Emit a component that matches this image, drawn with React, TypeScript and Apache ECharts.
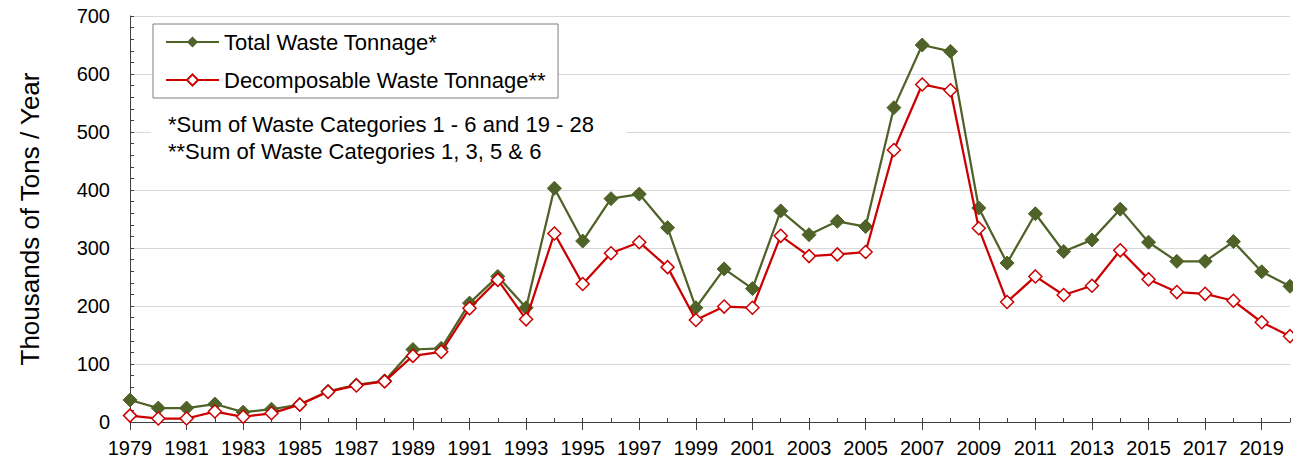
import React, { useEffect, useRef } from "react";
import * as echarts from "echarts";

const years: string[] = [
  "1979","1980","1981","1982","1983","1984","1985","1986","1987","1988",
  "1989","1990","1991","1992","1993","1994","1995","1996","1997","1998",
  "1999","2000","2001","2002","2003","2004","2005","2006","2007","2008",
  "2009","2010","2011","2012","2013","2014","2015","2016","2017","2018",
  "2019","2020",
];

const totalWaste: number[] = [
  38, 24, 24, 31, 17, 22, 30, 53, 64, 71,
  125, 127, 205, 251, 197, 403, 312, 385, 393, 335,
  197, 264, 230, 364, 323, 346, 337, 542, 650, 639,
  369, 274, 359, 294, 314, 367, 310, 277, 277, 311,
  259, 234,
];

const decomposableWaste: number[] = [
  11, 6, 6, 18, 9, 15, 30, 52, 63, 70,
  114, 121, 196, 245, 177, 325, 238, 291, 310, 267,
  176, 199, 197, 321, 286, 289, 293, 469, 582, 572,
  334, 207, 251, 219, 235, 296, 246, 224, 221, 209,
  172, 148,
];

const seriesNames: string[] = ["Total Waste Tonnage*", "Decomposable Waste Tonnage**"];
const footnotes: string[] = [
  "*Sum of Waste Categories 1 - 6 and 19 - 28",
  "**Sum of Waste Categories 1, 3, 5 & 6",
];
const yAxisTitle = "Thousands of Tons / Year";

const FONT = "'Liberation Sans', Arial, sans-serif";
const GREEN = "#4F6228";
const RED = "#CC0000";

export default function App() {
  const ref = useRef<HTMLDivElement>(null);

  useEffect(() => {
    if (!ref.current) return;
    const chart = echarts.init(ref.current, undefined, { renderer: "svg" });
    chart.setOption({
      animation: false,
      backgroundColor: "#ffffff",
      textStyle: { fontFamily: FONT },
      grid: { left: 130, right: 3, top: 16, bottom: 43, containLabel: false },
      legend: {
        left: 153,
        top: 24,
        orient: "vertical",
        padding: [7, 12, 7, 12],
        itemGap: 16,
        itemWidth: 53,
        itemHeight: 14,
        borderColor: "#7f7f7f",
        borderWidth: 1,
        backgroundColor: "#ffffff",
        textStyle: { fontSize: 22, color: "#000", fontFamily: FONT, lineHeight: 22 },
        data: seriesNames,
      },
      xAxis: [
        {
          type: "category",
          data: years,
          boundaryGap: false,
          position: "bottom",
          axisLine: { show: true, lineStyle: { color: "#404040", width: 1 } },
          axisTick: { show: true, interval: 1, length: 8, inside: false, lineStyle: { color: "#404040" } },
          axisLabel: { interval: 1, fontSize: 20, color: "#000", margin: 16, fontFamily: FONT },
          splitLine: { show: false },
        },
        {
          type: "category",
          data: years,
          boundaryGap: false,
          position: "bottom",
          offset: 0,
          axisLine: { show: false },
          axisTick: { show: true, interval: 0, length: 4, inside: true, lineStyle: { color: "#404040" } },
          axisLabel: { show: false },
          splitLine: { show: false },
        },
      ],
      yAxis: {
        type: "value",
        min: 0,
        max: 700,
        interval: 100,
        name: yAxisTitle,
        nameLocation: "middle",
        nameGap: 87,
        nameTextStyle: { fontSize: 26, color: "#000", fontFamily: FONT },
        axisLine: { show: true, lineStyle: { color: "#404040", width: 1 } },
        axisTick: { show: true, inside: true, length: 4, lineStyle: { color: "#404040" } },
        minorTick: { show: true, splitNumber: 5, length: 4, lineStyle: { color: "#404040" } },
        axisLabel: { fontSize: 20, color: "#000", margin: 20, fontFamily: FONT },
        splitLine: { show: true, lineStyle: { color: "#d9d9d9", width: 1 } },
      },
      graphic: [
        {
          type: "text",
          z: 100,
          left: 151,
          top: 111,
          style: {
            text: footnotes.join("\n"),
            font: `22px ${FONT}`,
            fill: "#000",
            lineHeight: 27,
            backgroundColor: "#ffffff",
            padding: [0, 32, 0, 17],
          },
        },
      ],
      series: [
        {
          name: seriesNames[0],
          type: "line",
          data: totalWaste,
          symbol: "diamond",
          symbolSize: 14,
          lineStyle: { color: GREEN, width: 2.25 },
          itemStyle: { color: GREEN, borderColor: GREEN },
          z: 2,
        },
        {
          name: seriesNames[1],
          type: "line",
          data: decomposableWaste,
          symbol: "diamond",
          symbolSize: 13,
          lineStyle: { color: RED, width: 2.25 },
          itemStyle: { color: "#ffffff", borderColor: RED, borderWidth: 1.5 },
          z: 3,
        },
      ],
    });
    return () => chart.dispose();
  }, []);

  return (
    <div
      ref={ref}
      style={{ position: "fixed", left: 0, top: 0, width: 1293, height: 465, background: "#fff" }}
    />
  );
}
